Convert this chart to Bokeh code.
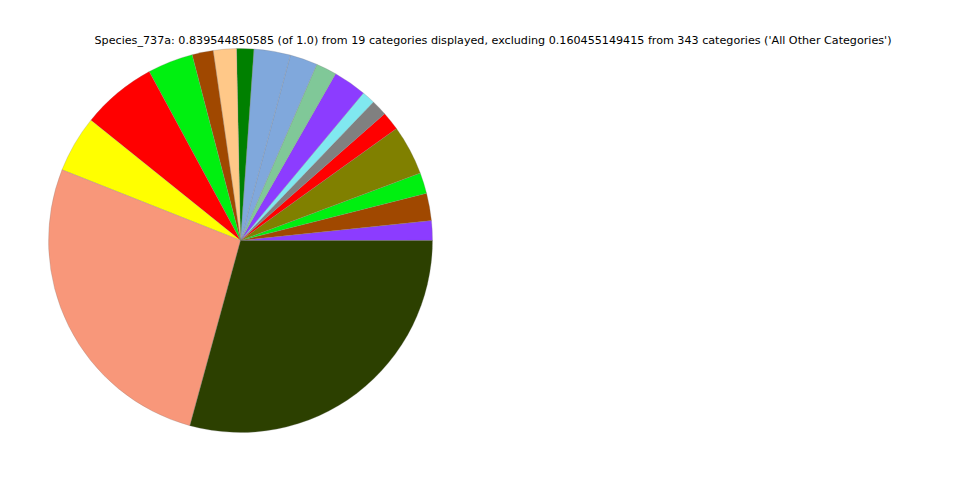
import numpy as np
from bokeh.plotting import figure
from bokeh.models import ColumnDataSource
from bokeh.core.properties import value
from bokeh.embed import file_html
from bokeh.resources import INLINE

# Shares of the 19 displayed categories (of 1.0), in drawing order from 3 o'clock, anticlockwise
shares = [0.01390, 0.01938, 0.01469, 0.03517, 0.01329, 0.01131, 0.00933, 0.02355,
          0.01469, 0.01947, 0.02577, 0.01213, 0.01632, 0.01493, 0.03218, 0.05317,
          0.04011, 0.22458, 0.24557]
colors = ["#8c3cff", "#a04800", "#00f010", "#808000", "#ff0000", "#808080", "#80e8f0",
          "#8c3cff", "#80c898", "#80a8dc", "#80a8dc", "#008000", "#ffc888", "#a04800",
          "#00f010", "#ff0000", "#ffff00", "#f8977a", "#2c4000"]
title_text = ("Species_737a: 0.839544850585 (of 1.0) from 19 categories displayed, "
              "excluding 0.160455149415 from 343 categories ('All Other Categories')")

W, H = 960, 480
p = figure(width=W, height=H, x_range=(0, W), y_range=(0, H),
           output_backend="svg", toolbar_location=None, min_border=0)
p.axis.visible = False
p.grid.visible = False
p.outline_line_color = None
p.background_fill_color = "white"
p.border_fill_color = "white"

vals = np.array(shares)
frac = vals / vals.sum()
ends = np.cumsum(frac) * 2 * np.pi
starts = np.concatenate([[0.0], ends[:-1]])

src = ColumnDataSource(dict(start=starts, end=ends, color=colors))
p.wedge(x=240, y=240, radius=192, start_angle="start", end_angle="end",
        fill_color="color", line_color="#808080", line_alpha=0.5, line_width=0.5,
        source=src)

p.text(x=[492.5], y=[440], text=[title_text], text_font=value("DejaVu Sans"),
       text_font_size="11.15px", text_align="center", text_baseline="middle",
       text_color="black")

open("out.html", "w").write(file_html(p, INLINE))
